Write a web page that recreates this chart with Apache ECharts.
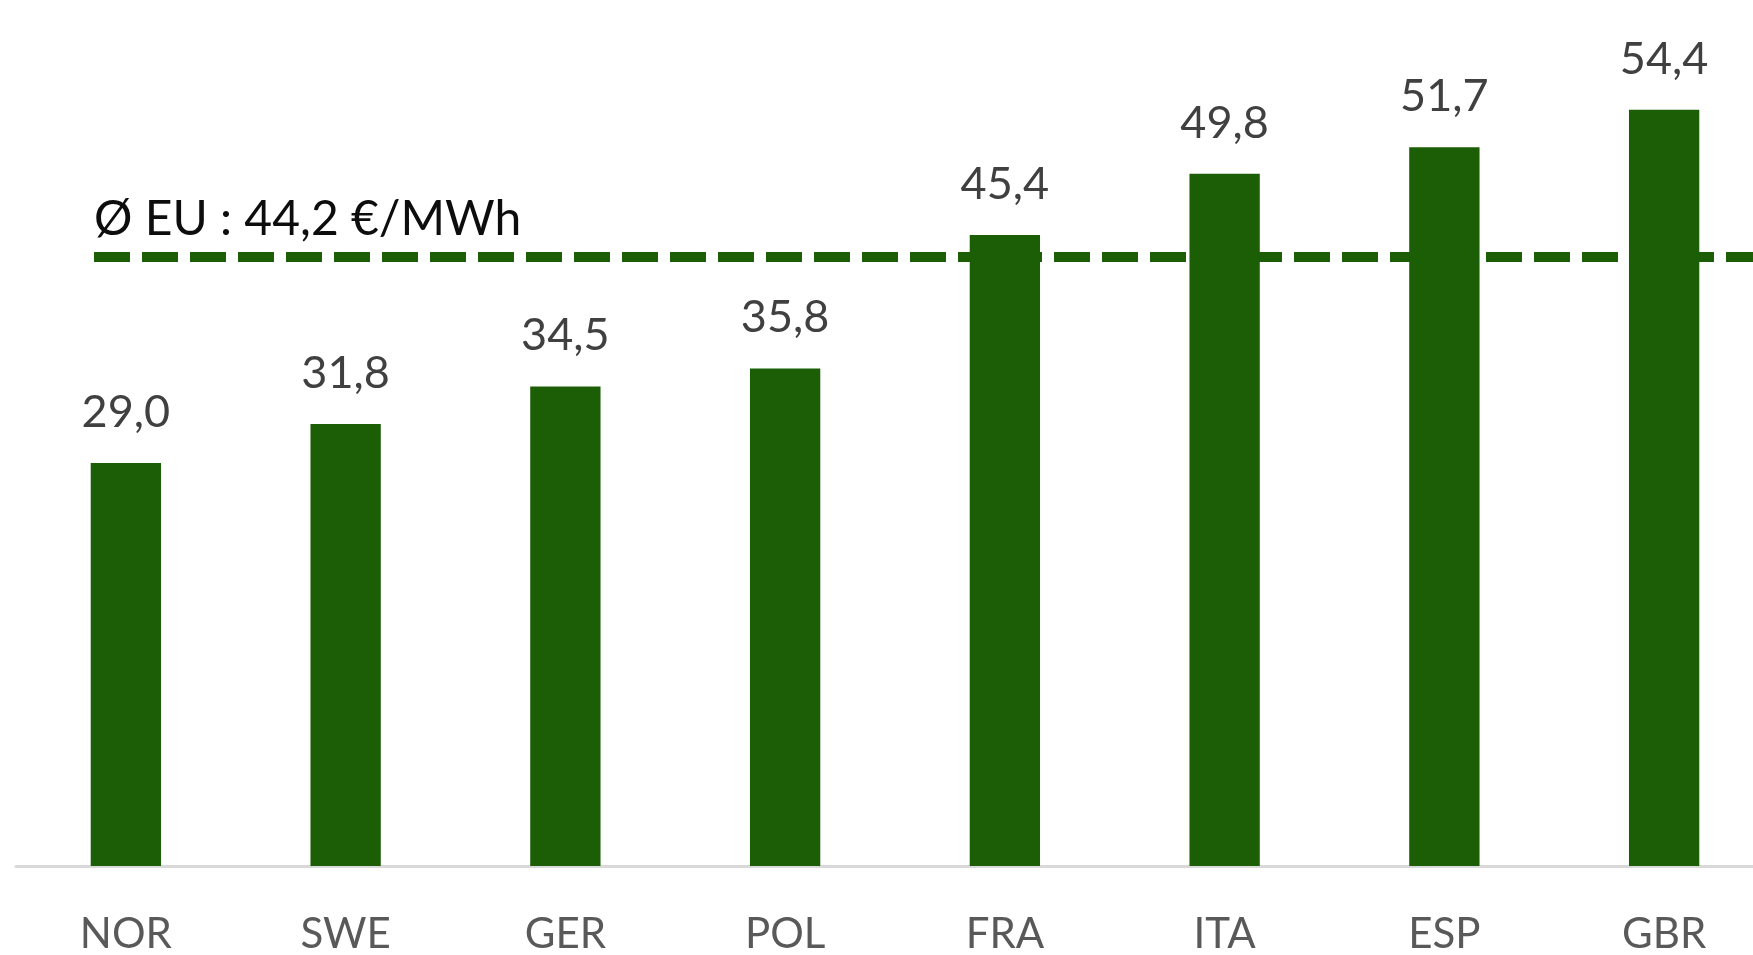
<html>

<head>
  <script src="https://cdn.jsdelivr.net/npm/echarts@6/dist/echarts.min.js"></script>
  <title>Strompreise</title>
</head>

<body style="margin: 0; overflow: hidden; background: #fff;">
  <!-- the plot runs past the right edge of the window, so the div is wider -->
  <div id="main" style="width: 1780px; height: 955px;"></div>
  <script>
    // countries and prices (€/MWh)
    var countries = ['NOR', 'SWE', 'GER', 'POL', 'FRA', 'ITA', 'ESP', 'GBR'];
    var prices = [29.0, 31.8, 34.5, 35.8, 45.4, 49.8, 51.7, 54.4];
    // EU average: label value and where the dashed line sits in the picture
    var euAverage = 44.2;
    var euLineLevel = 43.8;

    var green = '#1c5e06';
    var font = 'Lato';

    var myChart = echarts.init(document.getElementById('main'));

    var option = {
      animation: false,
      grid: {
        left: 16,
        top: 32,
        width: 1758,
        height: 837
      },
      xAxis: {
        type: 'category',
        data: countries,
        axisLine: { lineStyle: { color: '#d9d9d9', width: 3 } },
        axisTick: { show: false },
        axisLabel: {
          color: '#595959',
          fontFamily: font,
          fontSize: 42,
          margin: 47
        }
      },
      yAxis: {
        type: 'value',
        min: 0,
        max: 60,
        show: false,
        splitLine: { show: false }
      },
      series: [{
        type: 'bar',
        data: prices,
        barWidth: '32%',
        itemStyle: { color: green },
        label: {
          show: true,
          position: 'top',
          distance: 28,
          color: '#404040',
          fontFamily: font,
          fontSize: 45,
          formatter: function (p) {
            return p.value.toFixed(1).replace('.', ',');
          }
        },
        markLine: {
          silent: true,
          symbol: 'none',
          z: 1,
          lineStyle: {
            color: green,
            width: 10,
            type: [36, 12],
            cap: 'butt'
          },
          label: {
            show: true,
            position: 'insideStartTop',
            distance: [0, 14],
            color: '#0d0d0d',
            fontFamily: font,
            fontSize: 48,
            formatter: 'Ø EU : ' + euAverage.toFixed(1).replace('.', ',') + ' €/MWh'
          },
          data: [[
            { coord: [countries[0], euLineLevel], x: 94 },
            { coord: [countries[countries.length - 1], euLineLevel], x: 1753 }
          ]]
        }
      }]
    };

    myChart.setOption(option);
  </script>
</body>

</html>
